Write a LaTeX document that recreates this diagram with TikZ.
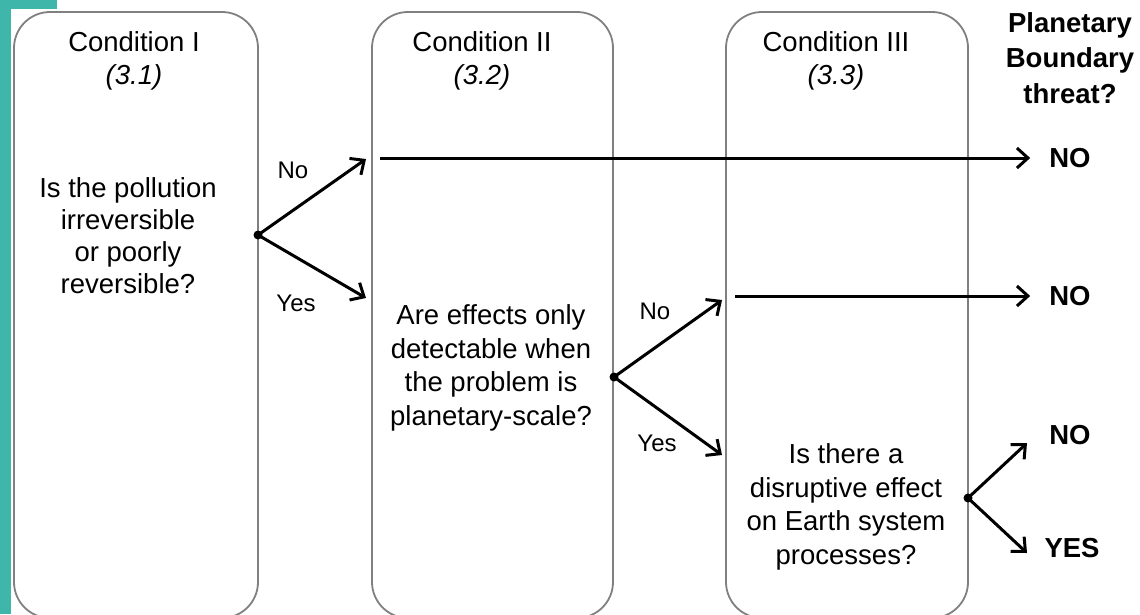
\documentclass[tikz,border=0pt]{standalone}
\usepackage{fontspec}
\setmainfont{Liberation Sans}
\usetikzlibrary{arrows.meta}
\definecolor{tealbar}{RGB}{62,182,170}
\definecolor{boxgray}{RGB}{128,128,128}

\begin{document}
\begin{tikzpicture}[x=1pt,y=-1pt,
  condbox/.style={draw=boxgray,line width=1.8pt,rounded corners=36pt},
  txt/.style={align=center,inner sep=0pt,font=\fontsize{27.5}{33.5}\selectfont},
  ans/.style={align=center,inner sep=0pt,font=\bfseries\fontsize{27.5}{35.5}\selectfont},
  lbl/.style={inner sep=0pt,font=\fontsize{24}{28}\selectfont},
  flow/.style={line width=3pt,-{Straight Barb[length=11pt,width=20pt]}},
  fork/.style={circle,fill,inner sep=0pt,minimum size=9pt}]
\useasboundingbox (0,0) rectangle (1140,614);
\fill[white] (0,0) rectangle (1140,614);
\fill[tealbar] (0,0) rectangle (11,614);
\fill[tealbar] (0,0) rectangle (57,9);
% the three conditions
\draw[condbox] (14,12) rectangle (258,618);
\draw[condbox] (372,12) rectangle (613,618);
\draw[condbox] (726,12) rectangle (968,618);
\node[txt] (cond1) at (134,61) {Condition I\\\textit{(3.1)}};
\node[txt] (cond2) at (482,61) {Condition II\\\textit{(3.2)}};
\node[txt] (cond3) at (836,61) {Condition III\\\textit{(3.3)}};
\node[ans] (threat) at (1070,58) {Planetary\\Boundary\\threat?};
\node[txt,font=\fontsize{27.5}{32}\selectfont] (q1) at (128,236) {Is the pollution\\irreversible\\or poorly\\reversible?};
\node[txt] (q2) at (491,368) {Are effects only\\detectable when\\the problem is\\planetary-scale?};
\node[txt] (q3) at (846,507) {Is there a\\disruptive effect\\on Earth system\\processes?};
% answers
\node[ans] (no1) at (1070,158) {NO};
\node[ans] (no2) at (1070,296) {NO};
\node[ans] (no3) at (1070,435) {NO};
\node[ans] (yes3) at (1072,548) {YES};
% forks
\node[fork] (f1) at (258,235) {};
\node[fork] (f2) at (614,377) {};
\node[fork] (f3) at (968,498) {};
\coordinate (n1) at (366,159);
\coordinate (y1) at (366,298);
\coordinate (n2) at (722,300);
\coordinate (y2) at (722,455);
\coordinate (n3) at (1027,443);
\coordinate (y3) at (1027,553);
\coordinate (h1) at (380,158);
\coordinate (h2) at (735,296);
\draw[flow] (f1.center) -- (n1);
\draw[flow] (f1.center) -- (y1);
\draw[flow] (f2.center) -- (n2);
\draw[flow] (f2.center) -- (y2);
\draw[flow] (f3.center) -- (n3);
\draw[flow] (f3.center) -- (y3);
\draw[flow,shorten >=19pt] (h1) -- (no1.west);
\draw[flow,shorten >=19pt] (h2) -- (no2.west);
\node[lbl] (lno1) at (293,170) {No};
\node[lbl] (lyes1) at (296,303) {Yes};
\node[lbl] (lno2) at (655,311) {No};
\node[lbl] (lyes2) at (657,443) {Yes};
\end{tikzpicture}
\end{document}
